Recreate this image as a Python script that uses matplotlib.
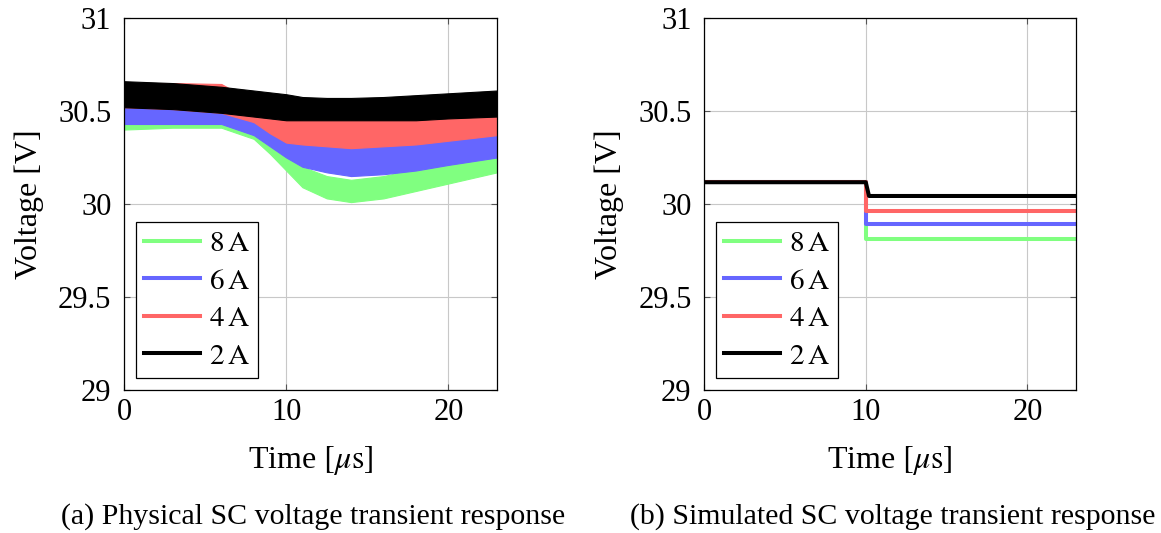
import matplotlib
matplotlib.use("Agg")
import matplotlib.pyplot as plt
from matplotlib.lines import Line2D

plt.rcParams['font.family'] = ['Liberation Serif', 'DejaVu Serif']
plt.rcParams['mathtext.fontset'] = 'stix'

t_meas = [0, 3, 6, 8, 9, 10, 11, 12.5, 14, 16, 18, 20, 23]
upper = {
    '2A': [30.66, 30.65, 30.63, 30.61, 30.60, 30.59, 30.575, 30.57, 30.57, 30.575, 30.585, 30.595, 30.61],
    '4A': [30.65, 30.65, 30.645, 30.55, 30.48, 30.46, 30.45, 30.45, 30.45, 30.46, 30.47, 30.48, 30.50],
    '6A': [30.54, 30.53, 30.51, 30.48, 30.42, 30.38, 30.34, 30.33, 30.32, 30.33, 30.335, 30.36, 30.40],
    '8A': [30.50, 30.49, 30.49, 30.45, 30.36, 30.29, 30.20, 30.15, 30.13, 30.15, 30.19, 30.23, 30.29],
}
lower = {
    '2A': [30.52, 30.51, 30.49, 30.47, 30.46, 30.45, 30.45, 30.45, 30.45, 30.45, 30.45, 30.46, 30.47],
    '4A': [30.52, 30.51, 30.49, 30.44, 30.38, 30.33, 30.32, 30.31, 30.30, 30.31, 30.32, 30.34, 30.37],
    '6A': [30.43, 30.43, 30.43, 30.37, 30.31, 30.25, 30.20, 30.17, 30.15, 30.16, 30.18, 30.21, 30.25],
    '8A': [30.40, 30.41, 30.41, 30.35, 30.27, 30.18, 30.09, 30.03, 30.01, 30.03, 30.07, 30.11, 30.17],
}

# simulated transient: step at 10 us
t_step = [0, 10, 10, 23]
t_step_2a = [0, 10, 10.2, 23]
v_before = 30.117
v_after = {'8A': 29.81, '6A': 29.89, '4A': 29.964, '2A': 30.043}

labels = ['8A', '6A', '4A', '2A']
legend_text = [r'$8\,\mathrm{A}$', r'$6\,\mathrm{A}$', r'$4\,\mathrm{A}$', r'$2\,\mathrm{A}$']
colors = {'8A': '#80ff80', '6A': '#6666ff', '4A': '#ff6666', '2A': 'black'}

fig = plt.figure(figsize=(11.61, 5.33), dpi=100)
ax1 = fig.add_axes([0.1068, 0.2683, 0.3213, 0.698])
ax2 = fig.add_axes([0.6064, 0.2683, 0.3204, 0.698])

for lab in labels:
    ax1.fill_between(t_meas, lower[lab], upper[lab], color=colors[lab], lw=0.8)

for lab in labels:
    tt = t_step_2a if lab == '2A' else t_step
    ax2.plot(tt, [v_before, v_before, v_after[lab], v_after[lab]], color=colors[lab], lw=2.9)

handles = [Line2D([], [], color=colors[l], lw=2.9) for l in labels]

for ax, cap in [(ax1, '(a) Physical SC voltage transient response'),
                (ax2, '(b) Simulated SC voltage transient response')]:
    ax.set_xlim(0, 23)
    ax.set_ylim(29, 31)
    ax.set_xticks([0, 10, 20])
    ax.set_yticks([29, 29.5, 30, 30.5, 31])
    ax.set_yticklabels(['29', '29.5', '30', '30.5', '31'])
    ax.grid(True, color='#c8c8c8', lw=0.8)
    ax.set_axisbelow(True)
    ax.tick_params(direction='in', top=True, right=True, labelsize=22, length=4, color='#555555')
    ax.tick_params(axis='y', pad=9)
    ax.tick_params(axis='x', pad=6)
    for s in ax.spines.values():
        s.set_linewidth(0.9)
    ax.set_xlabel(r'Time $\left[\mu\mathrm{s}\right]$', fontsize=23, labelpad=12)
    ax.set_ylabel('Voltage [V]', fontsize=23, labelpad=10)
    leg = ax.legend(handles, legend_text, loc='lower left', fontsize=21,
                    fancybox=False, edgecolor='black', framealpha=1,
                    handlelength=1.9, handletextpad=0.3, labelspacing=0.38,
                    borderaxespad=0.4, borderpad=0.3)
    leg.get_frame().set_linewidth(0.9)
    pos = ax.get_position()
    fig.text(pos.x0 + pos.width / 2 + 3 / 1161, 0.03, cap, ha='center', va='center', fontsize=21.5)

fig.savefig('out.png', dpi=100)
